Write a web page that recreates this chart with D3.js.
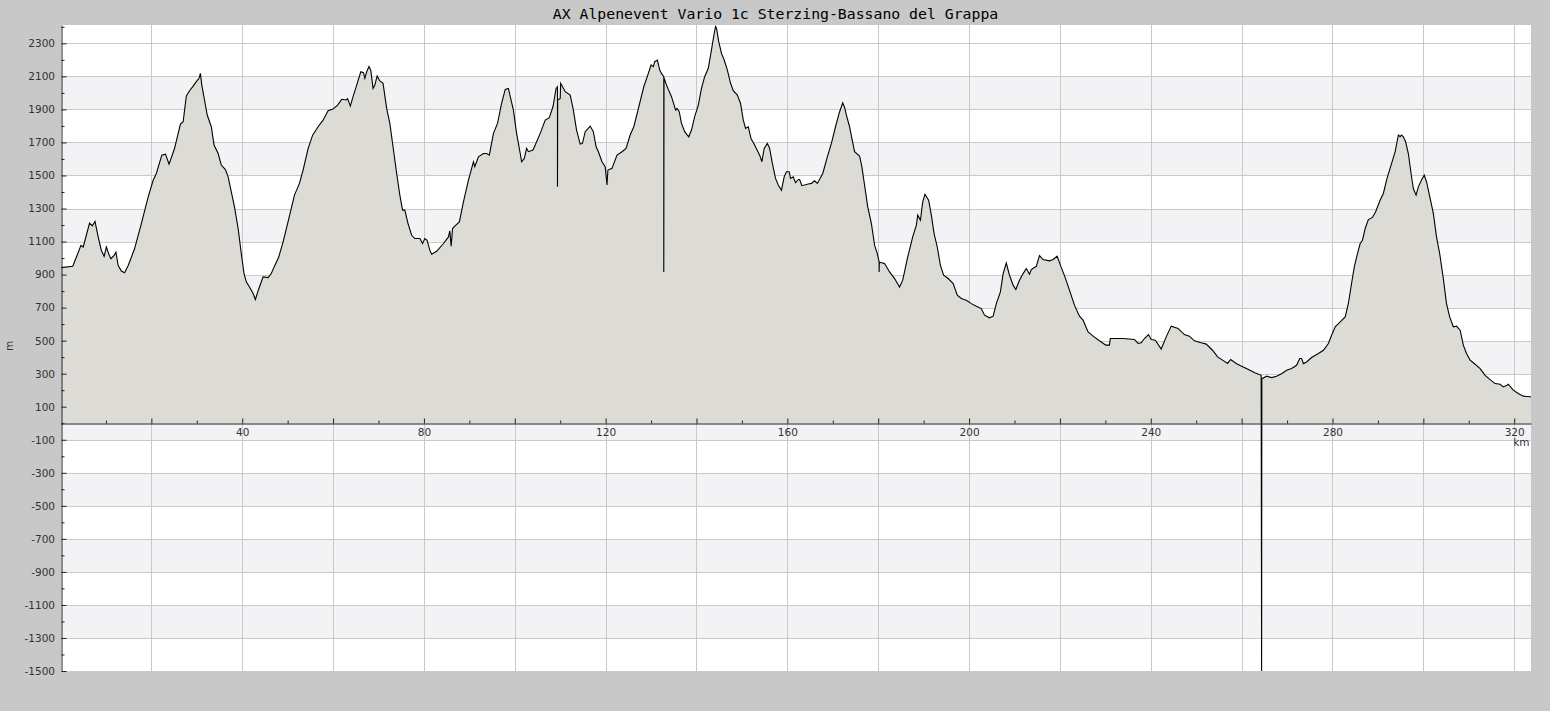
<!DOCTYPE html>
<html><head><meta charset="utf-8">
<script src="https://cdn.jsdelivr.net/npm/d3@7"></script>
<style>body{margin:0;background:#c8c8c8;overflow:hidden} svg{display:block}</style>
</head><body><svg id="c" width="1550" height="711"></svg>
<script>
const title = "AX Alpenevent Vario 1c Sterzing-Bassano del Grappa";
const xUnit = "km";
const yUnit = "m";

const km = [
0,2.7,3.5,4.5,5.0,6.4,7.0,7.6,8.3,9.0,9.6,10.1,10.6,11.1,11.8,12.2,12.7,13.4,14.1,14.9,16.3,17.8,19.3,20.4,21.1,22.3,23.1,23.9,25.1,26.4,27.0,27.7,28.4,29.2,29.9,30.5,30.8,31.1,31.7,32.3,33.2,33.8,34.7,35.4,36.3,36.9,37.6,38.3,39.1,39.8,40.4,40.9,41.6,42.4,42.9,43.6,44.6,45.7,46.4,47.1,48.0,49.0,50.1,51.5,52.6,53.4,54.5,55.5,56.7,57.8,58.9,60.0,61.0,61.9,62.9,63.2,63.8,
64.4,65.2,66.1,66.7,67.0,67.4,67.9,68.3,68.8,69.2,69.7,70.3,71.0,71.8,72.5,73.2,74.0,74.7,75.3,75.8,76.5,77.3,78.0,79.1,79.7,80.2,80.7,81.3,81.7,82.8,84.3,85.4,85.7,86.0,86.3,86.8,87.8,88.7,89.8,90.9,91.2,92.0,93.1,93.8,94.4,95.3,96.2,97.1,97.9,98.6,99.0,99.7,100.4,101.2,101.5,102.1,102.6,103.0,104.0,104.5,105.6,106.7,107.6,108.4,109.1,109.4,109.4,109.45,110.0,110.1,111.1,112.2,112.9,113.6,114.4,114.9,115.5,116.6,117.3,117.9,118.4,119.2,119.9,120.3,120.5,121.4,122.5,123.6,124.5,125.4,126.2,127.3,128.4,
129.4,130.0,130.5,130.8,131.4,131.9,132.3,132.8,132.8,132.85,133.4,134.5,135.4,135.7,136.2,136.7,137.4,138.3,138.9,139.6,140.4,141.1,141.8,142.6,143.3,143.9,144.2,144.4,144.9,145.5,146.1,146.8,147.5,148.1,149.0,149.7,150.3,150.8,151.4,152.0,152.8,153.9,154.4,154.9,155.6,156.1,156.7,157.4,158.0,158.7,159.3,159.8,160.4,160.7,161.3,161.8,162.4,162.7,163.2,164.6,165.3,166.0,166.6,167.8,168.8,169.7,170.6,171.5,172.2,172.6,173.0,173.7,174.2,174.8,175.9,176.4,177.0,177.7,178.5,179.2,179.8,180.2,180.2,180.25,181.4,182.5,183.6,184.7,185.4,186.5,187.6,188.4,188.7,189.3,189.8,190.3,191.1,191.7,192.3,193.0,193.7,
194.4,195.4,196.5,197.4,198.3,199.4,200.5,201.6,202.7,203.4,204.5,205.3,206.0,206.9,207.5,208.2,208.9,209.7,210.3,211.1,211.9,212.6,213.3,213.7,214.8,215.5,216.3,217.7,218.5,219.4,220.1,221.1,222.1,223.2,224.3,225.1,226.2,227.3,228.7,230.1,230.9,231.1,233.9,236.4,237.2,237.9,238.6,239.5,240.1,241.0,242.3,243.4,244.5,246.0,247.4,248.5,249.6,251.1,252.2,253.6,254.7,255.8,256.9,257.6,258.8,
260.0,261.5,262.9,264.3,264.4,264.45,265.5,266.6,267.7,268.8,269.9,271.0,272.1,272.8,273.2,273.6,274.3,275.4,276.9,278.0,279.1,279.8,280.6,281.7,282.8,283.5,284.2,284.8,285.5,286.1,286.6,287.2,287.9,288.8,289.5,290.5,291.2,292.0,292.9,293.8,294.5,294.9,295.2,295.6,296.1,296.7,297.3,297.8,298.4,298.9,299.6,300.2,300.7,301.5,302.2,302.9,303.6,304.4,305.1,305.8,306.6,307.3,308.1,308.8,309.5,310.3,311.4,312.5,313.6,314.7,315.8,316.9,317.6,318.4,318.7,319.8,320.9,322.0,323.7
];

const elevation = [
942,950,1006,1077,1067,1212,1195,1222,1127,1046,1010,1067,1026,996,1016,1036,955,921,911,955,1056,1208,1370,1471,1512,1623,1629,1569,1663,1811,1825,1981,2013,2041,2068,2088,2118,2048,1957,1866,1795,1684,1633,1563,1536,1492,1401,1310,1179,1027,906,856,825,785,749,810,886,882,906,951,1003,1098,1220,1381,1452,1533,1663,1744,1795,1835,1892,1902,1926,1961,1957,1965,1920,
1977,2047,2128,2122,2088,2128,2159,2138,2027,2047,2102,2072,2058,1906,1815,1674,1512,1381,1290,1290,1209,1138,1118,1118,1088,1118,1108,1048,1023,1041,1088,1128,1165,1072,1179,1193,1219,1340,1472,1583,1553,1613,1633,1633,1623,1755,1815,1936,2021,2027,1977,1896,1755,1633,1583,1603,1664,1644,1654,1684,1755,1835,1850,1916,2027,2037,1431,1957,1967,2058,2007,1987,1896,1775,1690,1694,1765,1799,1765,1674,1644,1583,1553,1442,1533,1543,1623,1644,1664,1745,1795,1916,2037,
2118,2169,2159,2189,2199,2138,2118,2098,916,2090,2047,1977,1896,1906,1886,1815,1765,1734,1775,1856,1926,2027,2098,2149,2260,2361,2401,2391,2310,2239,2199,2138,2058,2013,1987,1936,1835,1785,1795,1724,1684,1623,1583,1664,1694,1664,1573,1482,1442,1411,1492,1523,1523,1482,1492,1456,1476,1476,1438,1448,1452,1468,1452,1512,1613,1694,1795,1886,1940,1912,1866,1795,1724,1644,1618,1553,1442,1310,1209,1078,1027,977,916,975,967,916,876,825,866,1007,1128,1199,1260,1229,1340,1386,1350,1260,1148,1067,956,
896,876,846,775,755,745,724,708,694,654,638,648,724,795,906,970,896,836,810,866,906,937,902,930,950,1015,991,983,991,1011,957,886,806,715,648,624,553,527,499,473,473,513,513,507,483,487,513,537,507,503,449,523,588,574,537,527,499,487,479,442,402,382,362,386,362,
345,325,305,290,-1500,270,285,276,285,300,321,331,351,392,392,361,371,398,422,442,483,533,584,614,644,725,846,947,1027,1088,1108,1179,1233,1246,1280,1351,1391,1482,1563,1644,1745,1735,1745,1734,1704,1633,1512,1421,1381,1431,1472,1502,1462,1361,1270,1128,1027,876,724,644,584,588,563,473,422,382,357,331,290,264,240,236,220,230,236,200,180,164,160
];

const yTickValues = d3.range(-1500, 2301, 200);
const yMinorValues = d3.range(-1400, 2401, 200);
const xGridValues = d3.range(20, 321, 20);
const xMinorValues = d3.range(10, 321, 20);
const xLabelValues = d3.range(40, 321, 40);
const bandStarts = [2100, 1700, 1300, 900, 500, 100, -300, -700, -1100];

const data = km.map((k, i) => ({k, e: elevation[i]}));

const L = 60.5, R = 1531, T = 25, B = 671;
const x = d3.scaleLinear().domain([0, 323.7]).range([L, R]);
const y = d3.scaleLinear().domain([-1500, 2411]).range([B, T]);

const svg = d3.select("#c");
const font = "DejaVu Sans, sans-serif";

svg.append("text").attr("x", 775.5).attr("y", 19).attr("text-anchor", "middle")
  .attr("font-family", "DejaVu Sans Mono, monospace").attr("font-size", "14.8px")
  .attr("fill", "#000").text(title);

svg.append("defs").append("clipPath").attr("id", "clip")
  .append("rect").attr("x", 61).attr("y", T).attr("width", R - 61).attr("height", B - T);

const g = svg.append("g");
g.append("rect").attr("x", 61).attr("y", T).attr("width", R - 61).attr("height", B - T).attr("fill", "#ffffff");

g.selectAll("rect.band").data(bandStarts).join("rect").attr("class", "band")
  .attr("x", 61).attr("width", R - 61)
  .attr("y", d => Math.round(y(d)))
  .attr("height", d => Math.round(y(d - 200)) - Math.round(y(d)))
  .attr("fill", "#f3f2f5");

g.selectAll("line.hg").data(yTickValues).join("line").attr("class", "hg")
  .attr("x1", 61).attr("x2", R)
  .attr("y1", d => Math.round(y(d)) + 0.5).attr("y2", d => Math.round(y(d)) + 0.5)
  .attr("stroke", "#c9c9c9").attr("stroke-width", 1);

g.selectAll("line.vg").data(xGridValues).join("line").attr("class", "vg")
  .attr("y1", T).attr("y2", B)
  .attr("x1", d => Math.round(x(d)) + 0.5).attr("x2", d => Math.round(x(d)) + 0.5)
  .attr("stroke", "#c9c9c9").attr("stroke-width", 1);

const plot = svg.append("g").attr("clip-path", "url(#clip)");
const area = d3.area().x(d => x(d.k)).y0(y(0)).y1(d => y(d.e));
const line = d3.line().x(d => x(d.k)).y(d => y(d.e));
plot.append("path").datum(data).attr("d", area).attr("fill", "#dcdbd6");
plot.append("path").datum(data).attr("d", line).attr("fill", "none")
  .attr("stroke", "#000").attr("stroke-width", 1.1);

// y axis
const yAxis = svg.append("g").attr("transform", `translate(61.5,0)`)
  .call(d3.axisLeft(y).tickValues(yTickValues).tickSize(-5).tickSizeOuter(0).tickPadding(6.5)
    .tickFormat(d => String(d)));
yAxis.select(".domain").attr("stroke", "#222");
yAxis.selectAll(".tick line").attr("stroke", "#222");
yAxis.selectAll("text").attr("font-family", font).attr("font-size", "10.5px").attr("fill", "#333");
svg.append("g").attr("transform", `translate(61.5,0)`)
  .call(d3.axisLeft(y).tickValues(yMinorValues).tickSize(-3).tickSizeOuter(0).tickFormat(""))
  .call(s => { s.select(".domain").remove(); s.selectAll("line").attr("stroke", "#222"); });

// x axis at zero
const y0 = Math.round(y(0)) + 0.5;
const xAxis = svg.append("g").attr("transform", `translate(0,${y0})`)
  .call(d3.axisBottom(x).tickValues(xGridValues).tickSize(-5).tickSizeOuter(0).tickPadding(5)
    .tickFormat(d => xLabelValues.includes(d) ? String(d) : ""));
xAxis.select(".domain").attr("stroke", "#222");
xAxis.selectAll(".tick line").attr("stroke", "#222");
xAxis.selectAll("text").attr("font-family", font).attr("font-size", "10.5px").attr("fill", "#333");
svg.append("g").attr("transform", `translate(0,${y0})`)
  .call(d3.axisBottom(x).tickValues(xMinorValues).tickSize(-3).tickSizeOuter(0).tickFormat(""))
  .call(s => { s.select(".domain").remove(); s.selectAll("line").attr("stroke", "#222"); });

svg.append("text").attr("x", 1529.5).attr("y", 446).attr("text-anchor", "end")
  .attr("font-family", font).attr("font-size", "10.5px").attr("fill", "#333").text(xUnit);
svg.append("text").attr("transform", "translate(13,346) rotate(-90)").attr("text-anchor", "middle")
  .attr("font-family", font).attr("font-size", "10.5px").attr("fill", "#333").text(yUnit);
</script>
</body></html>
